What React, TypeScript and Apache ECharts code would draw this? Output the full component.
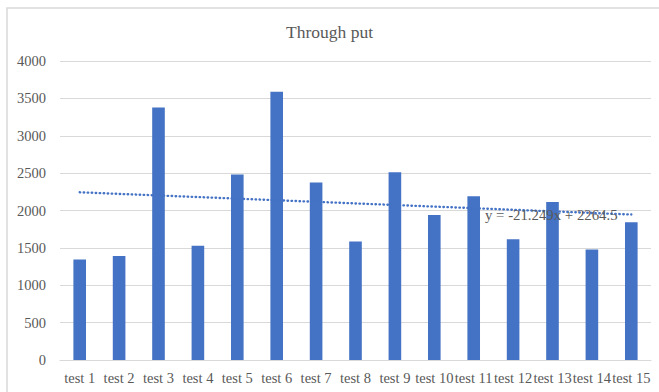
import React, { useEffect, useRef } from "react";
import * as echarts from "echarts";

const categories = [
  "test 1", "test 2", "test 3", "test 4", "test 5", "test 6", "test 7", "test 8",
  "test 9", "test 10", "test 11", "test 12", "test 13", "test 14", "test 15",
];
const throughput = [
  1345, 1390, 3378, 1530, 2482, 3588, 2375, 1585, 2513, 1940, 2190, 1615, 2113, 1478, 1842,
];
// Linear trendline fitted to the series (x = 1..15)
const trendSlope = -21.249;
const trendIntercept = 2264.5;
const trendLabel = "y = -21.249x + 2264.5";

const FONT = "Liberation Serif";
const GREY = "#595959";
const BLUE = "#4472C4";

export default function App() {
  const ref = useRef<HTMLDivElement>(null);

  useEffect(() => {
    if (!ref.current) return;
    const chart = echarts.init(ref.current, null, { renderer: "svg" });
    const first = trendIntercept + trendSlope * 1;
    const last = trendIntercept + trendSlope * categories.length;

    chart.setOption({
      animation: false,
      backgroundColor: "#ffffff",
      textStyle: { fontFamily: FONT },
      title: {
        text: "Through put",
        left: "center",
        top: 18,
        textStyle: { fontFamily: FONT, fontSize: 17.5, fontWeight: "normal", color: GREY },
      },
      grid: { left: 60, right: 8, top: 61, bottom: 32 },
      xAxis: {
        type: "category",
        data: categories,
        axisLine: { lineStyle: { color: "#d9d9d9", width: 1 } },
        axisTick: { show: false },
        axisLabel: { fontFamily: FONT, fontSize: 14.5, color: GREY, margin: 10, interval: 0 },
      },
      yAxis: {
        type: "value",
        min: 0,
        max: 4000,
        interval: 500,
        axisLine: { show: false },
        axisTick: { show: false },
        axisLabel: {
          fontFamily: FONT,
          fontSize: 14.5,
          color: GREY,
          margin: 14,
          formatter: (v: number) => String(v),
        },
        splitLine: { lineStyle: { color: "#d9d9d9", width: 1 } },
      },
      series: [
        {
          type: "bar",
          data: throughput,
          barWidth: "32%",
          itemStyle: { color: BLUE },
          markLine: {
            silent: true,
            symbol: ["none", "none"],
            label: { show: false },
            lineStyle: { color: BLUE, width: 2.4, type: [0.5, 3.5], cap: "round" },
            data: [
              [
                { coord: [categories[0], first] },
                { coord: [categories[categories.length - 1], last] },
              ],
            ],
          },
        },
      ],
      graphic: [
        {
          type: "rect",
          shape: { x: 7, y: 8, width: 800, height: 600 },
          style: { fill: "none", stroke: "#d9d9d9", lineWidth: 1.5 },
          silent: true,
        },
        {
          type: "text",
          x: 485,
          y: 215,
          style: {
            text: trendLabel,
            fontFamily: FONT,
            fontSize: 14.8,
            fill: GREY,
            verticalAlign: "middle",
          },
          z: 10,
        },
      ],
    });
    return () => chart.dispose();
  }, []);

  return (
    <div
      ref={ref}
      style={{ position: "fixed", left: 0, top: 0, width: 659, height: 392 }}
    />
  );
}
